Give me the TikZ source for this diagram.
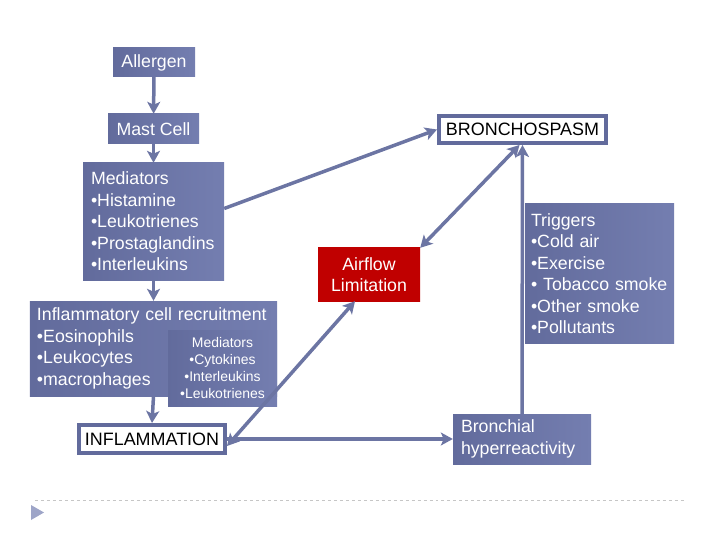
\documentclass[tikz,border=0pt]{standalone}
\usepackage{fontspec}
\setmainfont{Liberation Sans}
\usetikzlibrary{arrows.meta}
\definecolor{slate}{RGB}{98,107,156}
\definecolor{slatelt}{RGB}{116,126,176}
\definecolor{arrowc}{RGB}{108,117,163}
\definecolor{airred}{RGB}{192,0,0}
\begin{document}
\begin{tikzpicture}[x=1bp, y=-1bp,
    box/.style={rectangle, left color=slate, right color=slatelt, text=white, inner sep=0pt,
        font=\fontsize{17.8}{21.6}\selectfont},
    lbox/.style={box, align=left, inner xsep=7bp},
    wbox/.style={rectangle, draw=slate, line width=4bp, fill=white, inner sep=0pt,
        font=\fontsize{18}{21.6}\selectfont},
    arr/.style={draw=arrowc, line width=3.5bp, -{Stealth[length=12bp,width=13bp,inset=3bp]}},
    darr/.style={arr, {Stealth[length=12bp,width=13bp,inset=3bp]}-{Stealth[length=12bp,width=13bp,inset=3bp]}}
]
    \useasboundingbox (0,0) rectangle (720,540);

    % left column
    \node[box, minimum width=82bp, minimum height=29bp] (allergen) at (154,62.5) {Allergen};
    \node[box, minimum width=91bp, minimum height=30bp] (mast) at (153.5,129) {Mast Cell};
    \node[lbox, inner xsep=8bp, text width=125bp, minimum height=117bp] (med) at (153.5,221.5)
        {Mediators\\\textbullet Histamine\\\textbullet Leukotrienes\\\textbullet Prostaglandins\\\textbullet Interleukins};
    \node[lbox, text width=233bp, minimum height=95bp] (infl) at (153.5,348.5)
        {Inflammatory cell recruitment\\\textbullet Eosinophils\\\textbullet Leukocytes\\\textbullet macrophages};
    \node[box, align=center, minimum width=109bp, minimum height=76bp,
        font=\fontsize{14}{17}\selectfont] (infmed) at (222.5,368)
        {Mediators\\\textbullet Cytokines\\\textbullet Interleukins\\\textbullet Leukotrienes};
    \node[wbox, minimum width=146bp, minimum height=28bp] (inflam) at (152,439) {INFLAMMATION};

    % right side
    \node[wbox, minimum width=167bp, minimum height=27bp] (bronchospasm) at (522.5,129.5) {BRONCHOSPASM};
    \node[box, left color=airred, right color=airred, align=center,
        minimum width=102bp, minimum height=53bp] (airflow) at (369,274.5) {Airflow\\Limitation};
    \node[lbox, inner xsep=6bp, text width=137bp, minimum height=139bp] (triggers) at (599.5,273.5)
        {Triggers\\\textbullet Cold air\\\textbullet Exercise\\\textbullet\ Tobacco smoke\\\textbullet Other smoke\\\textbullet Pollutants};
    \node[lbox, inner xsep=8bp, text width=122bp, minimum height=50bp] (bronchial) at (522,439)
        {Bronchial\\hyperreactivity};

    \draw[arr] (allergen) -- (mast);
    \draw[arr] (mast) -- (med);
    \draw[arr] (med) -- (infl);
    \draw[arr] (infl.south) -- (inflam.north);
    \draw[arr] ([yshift=13bp]med.east) -- (bronchospasm.west);
    \draw[darr] ([xshift=-3bp]bronchospasm.south) -- (airflow.north east);
    \draw[arr] (bronchial.north) -- (bronchospasm.south);
    \draw[arr] (inflam.east) -- (bronchial.west);
    \draw[darr] ([yshift=-7bp]inflam.east) -- ([xshift=-14bp]airflow.south);

    % slide footer
    \draw[gray!45, dashed, line width=0.6bp] (35,500) -- (686,500);
    \fill[slatelt!70] (31,505) -- (44,512.5) -- (31,520) -- cycle;
\end{tikzpicture}
\end{document}
